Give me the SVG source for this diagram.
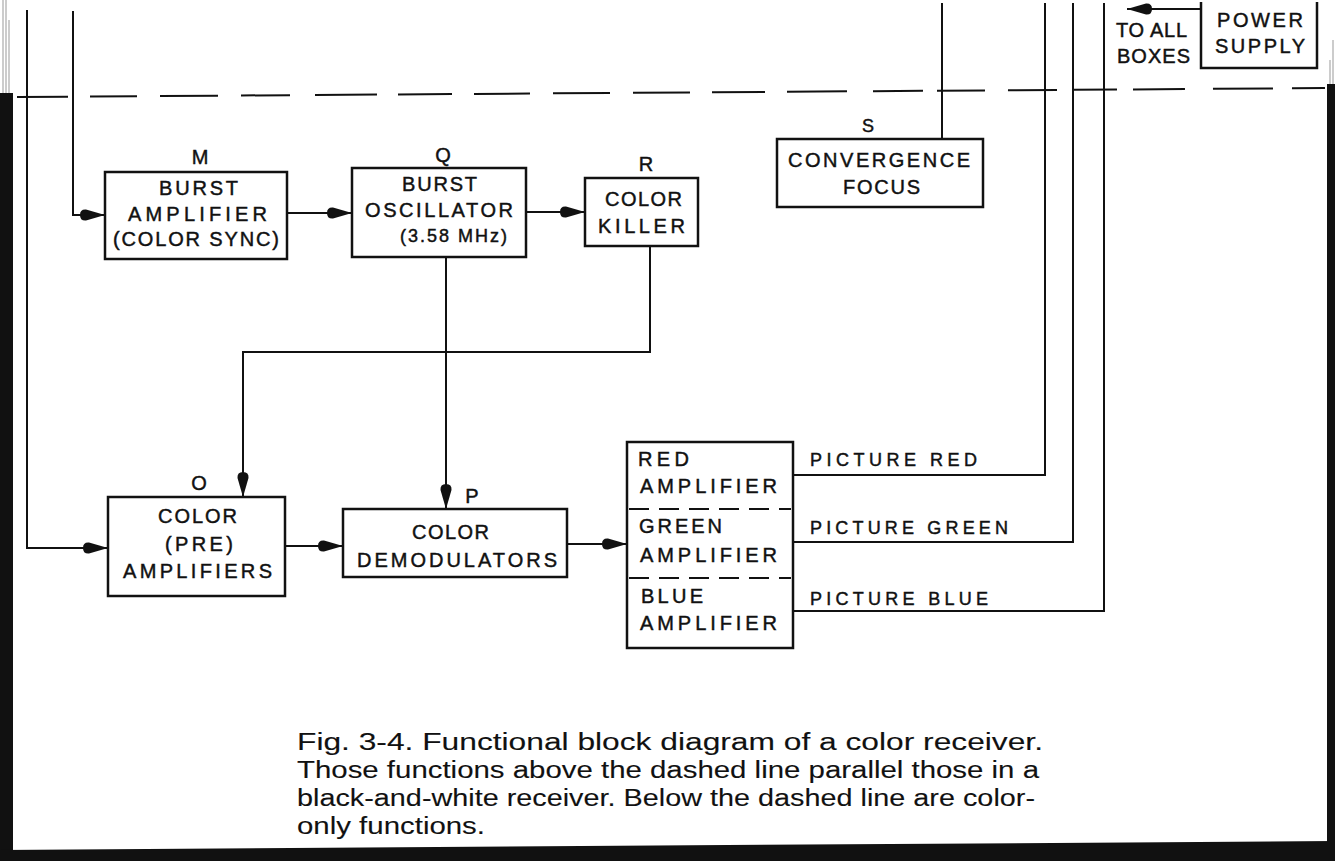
<svg xmlns="http://www.w3.org/2000/svg" width="1335" height="861" viewBox="0 0 1335 861">
<style>
.bx{fill:#fff;stroke:#111;stroke-width:2.5}
.ln{fill:none;stroke:#111;stroke-width:2}
.dv{fill:none;stroke:#111;stroke-width:2;stroke-dasharray:20 10}
.t{font-family:"Liberation Sans",Arial,sans-serif;font-size:20px;fill:#111;stroke:#111;stroke-width:0.45}
.s{font-size:18px}
.lb{font-size:20px}
.c{text-anchor:middle}
.cap{font-family:"Liberation Sans Narrow","Liberation Sans",Arial,sans-serif;font-size:23px;fill:#111;stroke:#111;stroke-width:0.1}
</style>
<defs>
<marker id="ah" markerWidth="27" markerHeight="16" refX="25" refY="8" orient="auto" markerUnits="userSpaceOnUse">
<path d="M0,8 Q0,2 6,2.5 L25,8 L6,13.5 Q0,14 0,8 Z" fill="#111"/>
</marker>
</defs>
<rect width="1335" height="861" fill="#fff"/>

<g id="frame">
<rect x="0" y="93" width="13" height="768" fill="#111"/>
<rect x="1327" y="84" width="8" height="777" fill="#111"/>
<polygon points="0,850 1335,841 1335,861 0,861" fill="#111"/>
<path d="M3,0V93M6,0V93M9,20V93M1330,60V84M1333,40V84" stroke="#999" stroke-width="1" fill="none"/>
</g>

<g id="dashed-boundary" transform="translate(17,97) rotate(-0.39)">
<path class="ln" d="M0,0H51M73,0H120M143,0H201M224,0H273M298,0H360M381,0H435M457,0H513M536,0H593M616,0H673M695,0H748M770,0H830M856,0H906M920,0H968M991,0H1040M1056,0H1100M1116,0H1168M1196,0H1256M1275,0H1308"/>
</g>

<g id="connectors">
<path class="ln" d="M27,10V548H108" marker-end="url(#ah)"/>
<path class="ln" d="M73,11V215H105" marker-end="url(#ah)"/>
<path class="ln" d="M287,213H352" marker-end="url(#ah)"/>
<path class="ln" d="M526,212H585" marker-end="url(#ah)"/>
<path class="ln" d="M446,257V509" marker-end="url(#ah)"/>
<path class="ln" d="M650,246V352H243V497" marker-end="url(#ah)"/>
<path class="ln" d="M285,546H343" marker-end="url(#ah)"/>
<path class="ln" d="M567,544H627" marker-end="url(#ah)"/>
<path class="ln" d="M793,475H1045V3"/>
<path class="ln" d="M793,542H1073V3"/>
<path class="ln" d="M793,611H1104V3"/>
<path class="ln" d="M942,3V139"/>
<path class="ln" d="M1201,9H1127" marker-end="url(#ah)"/>
<text class="t s" x="810" y="466" textLength="167" lengthAdjust="spacing">PICTURE RED</text>
<text class="t s" x="810" y="534" textLength="198" lengthAdjust="spacing">PICTURE GREEN</text>
<text class="t s" x="810" y="605" textLength="178" lengthAdjust="spacing">PICTURE BLUE</text>
</g>

<g id="burst-amplifier">
<rect class="bx" x="105" y="172" width="182" height="87"/>
<text class="t lb c" x="200" y="164">M</text>
<text class="t" x="159" y="195" textLength="79" lengthAdjust="spacing">BURST</text>
<text class="t" x="128" y="221" textLength="139" lengthAdjust="spacing">AMPLIFIER</text>
<text class="t" x="113" y="246" textLength="166" lengthAdjust="spacing">(COLOR SYNC)</text>
</g>

<g id="burst-oscillator">
<rect class="bx" x="352" y="168" width="174" height="89"/>
<text class="t lb c" x="443" y="162">Q</text>
<text class="t" x="402" y="191" textLength="75" lengthAdjust="spacing">BURST</text>
<text class="t" x="365" y="217" textLength="148" lengthAdjust="spacing">OSCILLATOR</text>
<text class="t s" x="400" y="242" textLength="107" lengthAdjust="spacing">(3.58 MHz)</text>
</g>

<g id="color-killer">
<rect class="bx" x="585" y="178" width="113" height="68"/>
<text class="t lb c" x="646" y="171">R</text>
<text class="t" x="605" y="206" textLength="77" lengthAdjust="spacing">COLOR</text>
<text class="t" x="598" y="233" textLength="87" lengthAdjust="spacing">KILLER</text>
</g>

<g id="convergence-focus">
<rect class="bx" x="777" y="139" width="206" height="68"/>
<text class="t s c" x="868" y="132">S</text>
<text class="t" x="788" y="167" textLength="182" lengthAdjust="spacing">CONVERGENCE</text>
<text class="t" x="843" y="194" textLength="77" lengthAdjust="spacing">FOCUS</text>
</g>

<g id="color-pre-amplifiers">
<rect class="bx" x="108" y="497" width="177" height="99"/>
<text class="t lb c" x="199" y="490">O</text>
<text class="t" x="158" y="523" textLength="79" lengthAdjust="spacing">COLOR</text>
<text class="t" x="165" y="551" textLength="68" lengthAdjust="spacing">(PRE)</text>
<text class="t" x="123" y="578" textLength="149" lengthAdjust="spacing">AMPLIFIERS</text>
</g>

<g id="color-demodulators">
<rect class="bx" x="343" y="509" width="224" height="68"/>
<text class="t lb c" x="472" y="503">P</text>
<text class="t" x="412" y="539" textLength="77" lengthAdjust="spacing">COLOR</text>
<text class="t" x="357" y="567" textLength="200" lengthAdjust="spacing">DEMODULATORS</text>
</g>

<g id="rgb-amplifiers">
<rect class="bx" x="627" y="442" width="166" height="206"/>
<path class="dv" d="M629,509H791M629,578H791"/>
<text class="t" x="638" y="466" textLength="51" lengthAdjust="spacing">RED</text>
<text class="t" x="640" y="493" textLength="137" lengthAdjust="spacing">AMPLIFIER</text>
<text class="t" x="639" y="533" textLength="83" lengthAdjust="spacing">GREEN</text>
<text class="t" x="640" y="562" textLength="137" lengthAdjust="spacing">AMPLIFIER</text>
<text class="t" x="641" y="603" textLength="62" lengthAdjust="spacing">BLUE</text>
<text class="t" x="640" y="630" textLength="137" lengthAdjust="spacing">AMPLIFIER</text>
</g>

<g id="power-supply">
<path class="bx" style="fill:none" d="M1201,2V68H1317V2"/>
<text class="t" x="1217" y="27" textLength="86" lengthAdjust="spacing">POWER</text>
<text class="t" x="1215" y="53" textLength="90" lengthAdjust="spacing">SUPPLY</text>
<text class="t" x="1116" y="37" textLength="71" lengthAdjust="spacing">TO ALL</text>
<text class="t" x="1117" y="63" textLength="73" lengthAdjust="spacing">BOXES</text>
</g>

<g id="caption">
<text class="cap" x="297" y="750" textLength="746" lengthAdjust="spacingAndGlyphs">Fig. 3-4. Functional block diagram of a color receiver.</text>
<text class="cap" x="297" y="778" textLength="742" lengthAdjust="spacingAndGlyphs">Those functions above the dashed line parallel those in a</text>
<text class="cap" x="297" y="806" textLength="738" lengthAdjust="spacingAndGlyphs">black-and-white receiver. Below the dashed line are color-</text>
<text class="cap" x="297" y="834" textLength="188" lengthAdjust="spacingAndGlyphs">only functions.</text>
</g>
</svg>
